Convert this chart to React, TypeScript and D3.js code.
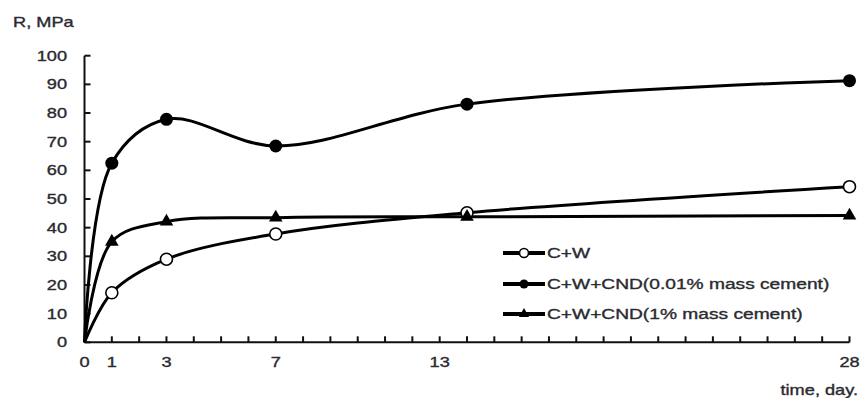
import React from "react";
import * as d3 from "d3";

const days = [0, 1, 3, 7, 14, 28];
const seriesCW = [0, 17.3, 29.0, 37.8, 45.2, 54.3];
const seriesCND001 = [0, 62.5, 77.8, 68.5, 83.1, 91.3];
const seriesCND1 = [0, 35.1, 42.1, 43.5, 43.8, 44.2];
const seriesNames = ["C+W", "C+W+CND(0.01% mass cement)", "C+W+CND(1% mass cement)"];
const yTicks = [0, 10, 20, 30, 40, 50, 60, 70, 80, 90, 100];
const xTickLabels = [0, 1, 3, 7, 13, 28];
const xMinorTicks = d3.range(1, 29);

const W = 862;
const H = 398;
const FONT = "'Liberation Sans', Arial, sans-serif";
const TXT = "#2b2a30";

function SText({ x, y, anchor, size = 14, sx = 1.3, children }: any) {
  return (
    <text
      transform={`translate(${x},${y}) scale(${sx},1)`}
      textAnchor={anchor || "start"}
      fontFamily={FONT}
      fontSize={size}
      fill={TXT}
      stroke={TXT}
      strokeWidth={0.35}
    >
      {children}
    </text>
  );
}

export default function App() {
  const x = d3.scaleLinear().domain([0, 28]).range([84.5, 849.5]);
  const y = d3.scaleLinear().domain([0, 100]).range([342.3, 55.7]);
  const line = d3
    .line<number>()
    .x((_, i) => x(days[i]))
    .y((d) => y(d))
    .curve(d3.curveCatmullRom.alpha(0.5));

  const tri = d3.symbol().type(d3.symbolTriangle).size(80)();
  const triSmall = d3.symbol().type(d3.symbolTriangle).size(45)();

  const series = [
    { vals: seriesCW, kind: "open" },
    { vals: seriesCND001, kind: "dot" },
    { vals: seriesCND1, kind: "tri" },
  ];

  const marker = (kind: string, cx: number, cy: number, small: boolean, key: any) => {
    if (kind === "open")
      return <circle key={key} cx={cx} cy={cy} r={small ? 4.5 : 6} fill="#fff" stroke="#000" strokeWidth={1.6} />;
    if (kind === "dot") return <circle key={key} cx={cx} cy={cy} r={small ? 4.5 : 6.5} fill="#000" />;
    return <path key={key} d={small ? triSmall! : tri!} transform={`translate(${cx},${cy})`} fill="#000" />;
  };

  const legendY = [253, 284, 314];

  return (
    <svg width={W} height={H} style={{ position: "absolute", left: 0, top: 0, background: "#fff" }}>
      <rect width={W} height={H} fill="#fff" />
      {/* axis title */}
      <SText x={13} y={27} size={14}>R, MPa</SText>
      {/* y axis */}
      <line x1={x(0)} x2={x(0)} y1={y(0)} y2={y(100)} stroke="#111" strokeWidth={2} />
      {yTicks.map((t) => (
        <g key={t}>
          <line x1={x(0)} x2={x(0) + 6} y1={y(t)} y2={y(t)} stroke="#111" strokeWidth={2} />
          <SText x={67} y={y(t) + 5} anchor="end">{t}</SText>
        </g>
      ))}
      {/* x axis */}
      <line x1={x(0)} x2={x(28)} y1={y(0)} y2={y(0)} stroke="#111" strokeWidth={2} />
      {xMinorTicks.map((t) => (
        <line key={t} x1={x(t)} x2={x(t)} y1={y(0)} y2={y(0) - 6} stroke="#111" strokeWidth={2} />
      ))}
      {xTickLabels.map((t) => (
        <SText key={t} x={x(t)} y={367} anchor="middle">{t}</SText>
      ))}
      <SText x={858} y={395} anchor="end" size={14}>time, day.</SText>
      {/* series lines */}
      {series.map((s, i) => (
        <path key={i} d={line(s.vals) || ""} fill="none" stroke="#000" strokeWidth={3} />
      ))}
      {series.map((s, i) =>
        s.vals.map((v, j) => (j === 0 ? null : marker(s.kind, x(days[j]), y(v), false, `${i}-${j}`)))
      )}
      {/* legend */}
      {series.map((s, i) => (
        <g key={i}>
          <line x1={503} x2={545} y1={legendY[i]} y2={legendY[i]} stroke="#000" strokeWidth={4} />
          {marker(s.kind, 524, legendY[i], true, "m")}
          <SText x={547} y={legendY[i] + 5} sx={1.37}>{seriesNames[i]}</SText>
        </g>
      ))}
    </svg>
  );
}
